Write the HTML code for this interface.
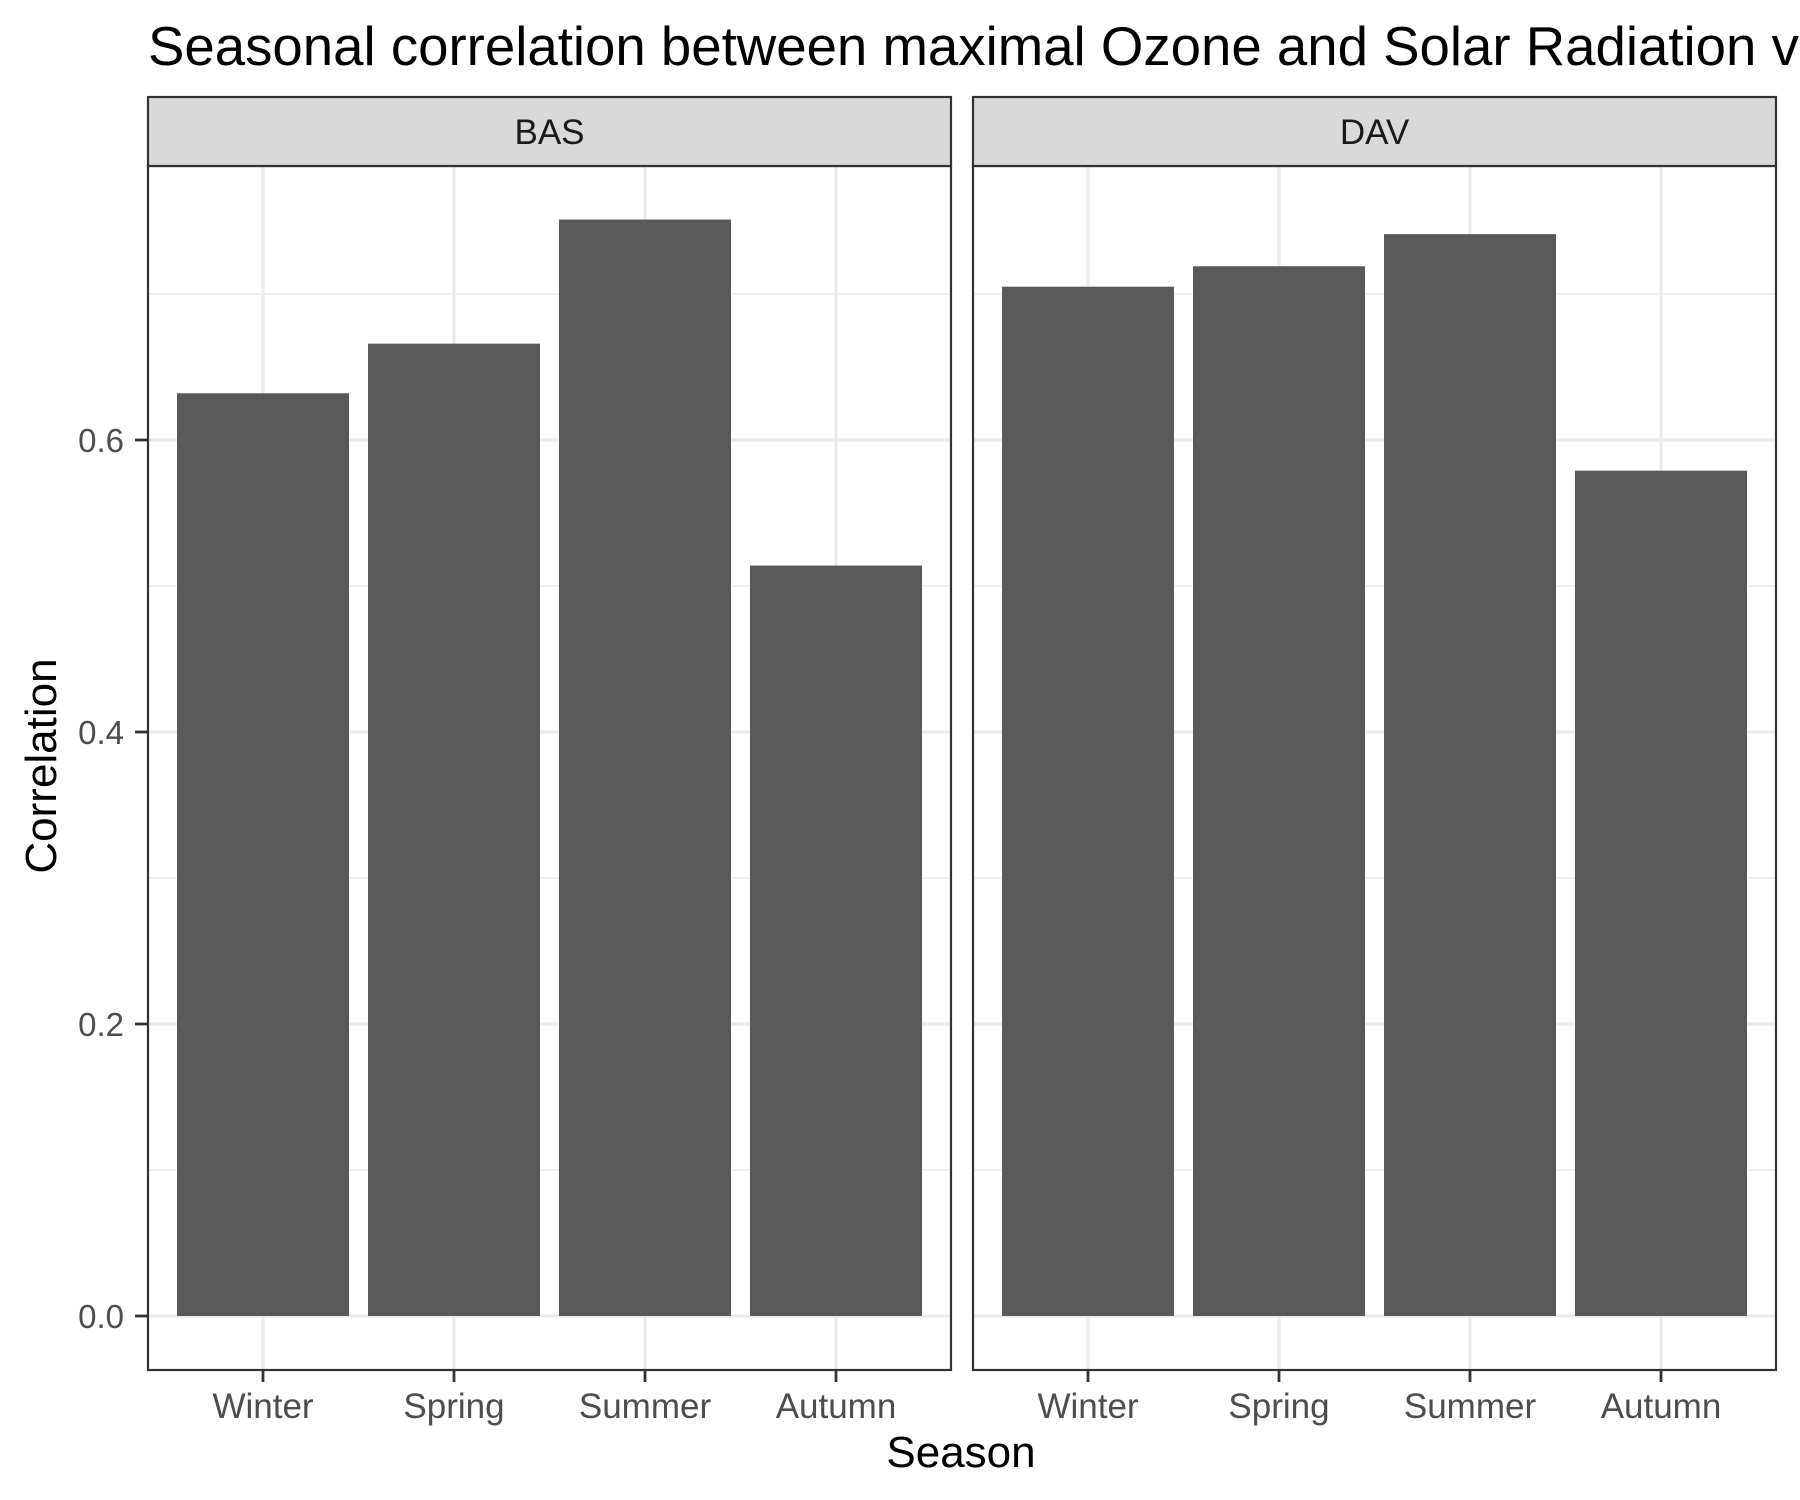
<!DOCTYPE html>
<html><head><meta charset="utf-8"><style>
html,body{margin:0;padding:0;background:#fff;}
svg{display:block;font-family:"Liberation Sans",Arial,sans-serif;}
</style></head><body>
<svg id="chart" width="1800" height="1500" viewBox="0 0 1800 1500">
<text x="148" y="65" font-size="54.6" fill="#000">Seasonal correlation between maximal Ozone and Solar Radiation v</text>
<text transform="translate(56,766) rotate(-90)" text-anchor="middle" font-size="44" fill="#000">Correlation</text>
<text x="961" y="1467" text-anchor="middle" font-size="44" fill="#000">Season</text>
<g id="panels"></g>
</svg>
<script>
const facets = ["BAS", "DAV"];
const seasons = ["Winter", "Spring", "Summer", "Autumn"];
const basValues = [0.632, 0.666, 0.751, 0.514];
const davValues = [0.705, 0.719, 0.741, 0.579];
const yTicks = [0.0, 0.2, 0.4, 0.6];
const yTickLabels = ["0.0", "0.2", "0.4", "0.6"];
const yMinor = [0.1, 0.3, 0.5, 0.7];

const NS = "http://www.w3.org/2000/svg";
const g = document.getElementById("panels");
const panelLefts = [148, 973];
const panelW = 803;
const stripTop = 97, stripBot = 166, panelBot = 1370;
const zeroY = 1316, pxPerUnit = 1460;
function y(v){ return zeroY - v * pxPerUnit; }
function x(i, left){ return left + 115 + i * 191; }
function mk(tag, attrs){ const e = document.createElementNS(NS, tag); for (const k in attrs) e.setAttribute(k, attrs[k]); g.appendChild(e); return e; }

const allValues = [basValues, davValues];
facets.forEach((f, p) => {
  const L = panelLefts[p], R = L + panelW;
  const bg = mk("rect", {x:L, y:stripBot, width:panelW, height:panelBot-stripBot, fill:"#fff"});
  
  
  yMinor.forEach(v => {
    const l = mk("line", {x1:L, x2:R, y1:y(v), y2:y(v), stroke:"#ebebeb", "stroke-width":1.6});
    
    
  });
  yTicks.forEach(v => {
    const l = mk("line", {x1:L, x2:R, y1:y(v), y2:y(v), stroke:"#ebebeb", "stroke-width":3.2});
    
    
  });
  seasons.forEach((s, i) => {
    const l = mk("line", {x1:x(i,L), x2:x(i,L), y1:stripBot, y2:panelBot, stroke:"#ebebeb", "stroke-width":3.2});
    
    
  });
  allValues[p].forEach((v, i) => {
    const b = mk("rect", {x:x(i,L)-86, width:172, y:y(v), height:zeroY-y(v), fill:"#595959"});
    
    
  });
  const fr = mk("rect", {x:L, y:stripBot, width:panelW, height:panelBot-stripBot, fill:"none", stroke:"#333", "stroke-width":2.2});
  
  
  const st = mk("rect", {x:L, y:stripTop, width:panelW, height:stripBot-stripTop, fill:"#d9d9d9", stroke:"#333", "stroke-width":2.2});
  
  
  const stt = mk("text", {x:L+panelW/2, y:144, "text-anchor":"middle", "font-size":35, fill:"#1a1a1a"});
  stt.textContent = f;
  
  
  seasons.forEach((s, i) => {
    const t = mk("line", {x1:x(i,L), x2:x(i,L), y1:panelBot, y2:panelBot+12, stroke:"#333", "stroke-width":2.8});
    
    
    const tl = mk("text", {x:x(i,L), y:1418, "text-anchor":"middle", "font-size":35, fill:"#4d4d4d"});
    tl.textContent = s;
    
    
  });
});
yTicks.forEach((v, i) => {
  const t = mk("line", {x1:135, x2:148, y1:y(v), y2:y(v), stroke:"#333", "stroke-width":2.8});
  
  
  const tl = mk("text", {x:124, y:y(v)+12, "text-anchor":"end", "font-size":33, fill:"#4d4d4d"});
  tl.textContent = yTickLabels[i];
  
  
});
</script>
</body></html>
